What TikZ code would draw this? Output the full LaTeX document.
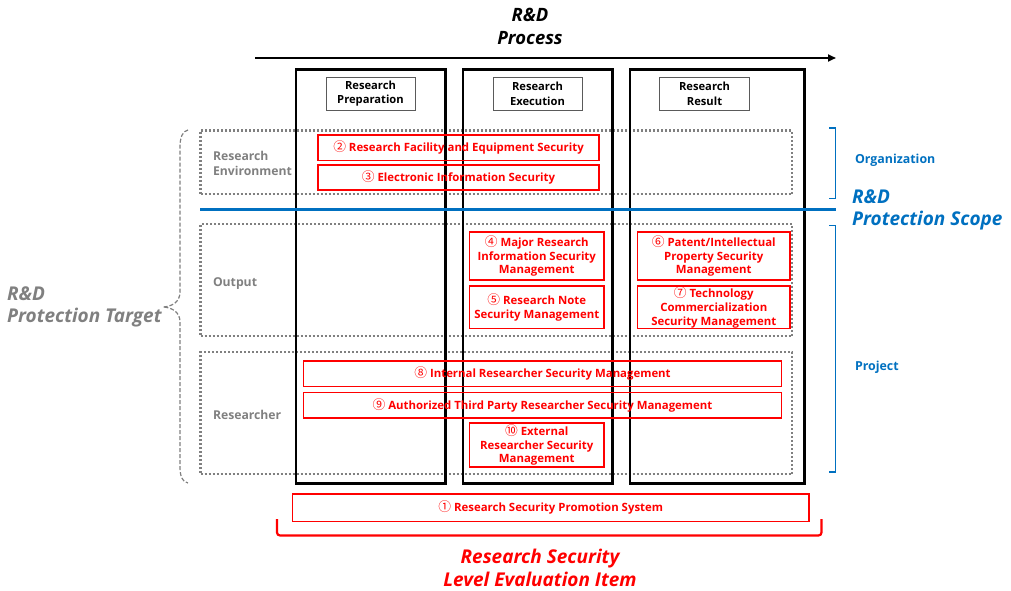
\documentclass[tikz,border=0pt]{standalone}
\usepackage{fontspec}
\setmainfont{Open Sans}
\newfontfamily\cjk[Scale=1.12]{Noto Sans CJK KR}
\usetikzlibrary{arrows.meta}
\definecolor{rdred}{RGB}{255,0,0}
\definecolor{rdblue}{RGB}{0,112,192}
\definecolor{rdgray}{RGB}{128,128,128}
\definecolor{dotgray}{RGB}{128,128,128}
\definecolor{hdgray}{RGB}{90,90,90}
\newcommand\cn[1]{{\cjk\mdseries #1}}
\newcommand\bx[7]{\node[#1, anchor=north west, minimum width={(#5)-(#3)}, minimum height={(#6)-(#4)}] (#2) at (#3,#4) {#7};}
\tikzset{
  every node/.style={inner sep=0pt, outer sep=0pt},
  colbox/.style={draw=black, line width=2.2pt},
  hdbox/.style={draw=hdgray, line width=0.9pt, align=center, font=\bfseries\fontsize{11.2}{14.5}\selectfont},
  dotbox/.style={draw=dotgray, line width=2.2pt, dash pattern=on 2pt off 2pt},
  redbox/.style={draw=rdred, line width=1.5pt, text=rdred, align=center, font=\bfseries\fontsize{11.4}{13.8}\selectfont},
  graylab/.style={text=rdgray, align=left, anchor=west, font=\bfseries\fontsize{12.2}{15.5}\selectfont},
  bluelab/.style={text=rdblue, align=left, anchor=west, font=\bfseries\fontsize{12.4}{15}\selectfont},
  bigital/.style={align=center, font=\bfseries\itshape\fontsize{19}{22.5}\selectfont},
}
\begin{document}
\begin{tikzpicture}[x=1pt,y=-1pt]
\useasboundingbox (0,0) rectangle (1011,591);
% title and process arrow
\node[bigital, font=\bfseries\itshape\fontsize{18.4}{23}\selectfont] (title) at (530,26) {R\&D\\Process};
\coordinate (arrS) at (255,58);
\coordinate (arrE) at (836,58);
\draw[line width=2.2pt, -{Triangle[length=8pt,width=7pt]}] (arrS) -- (arrE);
% dotted row boxes
\bx{dotbox}{env}{200.5}{130.5}{792}{194}{}
\bx{dotbox}{out}{200.5}{224}{792}{336}{}
\bx{dotbox}{res}{200.5}{352}{792}{474}{}
% column boxes
\bx{colbox}{col1}{296}{69.5}{445.5}{483.5}{}
\bx{colbox}{col2}{463}{69.5}{612.5}{483.5}{}
\bx{colbox}{col3}{630}{69.5}{804.5}{483.5}{}
% header boxes
\bx{hdbox}{h1}{326}{77.5}{415}{110}{Research\\Preparation}
\bx{hdbox}{h2}{493}{77.5}{582}{110}{Research\\Execution}
\bx{hdbox}{h3}{659.5}{77.5}{749.5}{110}{Research\\Result}
% row labels
\node[graylab] (lenv) at (213,163.5) {Research\\Environment};
\node[graylab] (lout) at (213,284) {Output};
\node[graylab] (lres) at (213,415) {Researcher};
% red boxes
\bx{redbox}{r2}{318}{135}{599}{160.5}{\cn{②} Research Facility and Equipment Security}
\bx{redbox}{r3}{318}{165}{599}{190}{\cn{③} Electronic Information Security}
\bx{redbox}{r4}{469.5}{232}{604}{280}{\cn{④} Major Research\\Information Security\\Management}
\bx{redbox}{r5}{469.5}{286}{604}{328.5}{\cn{⑤} Research Note\\Security Management}
\bx{redbox}{r6}{637.5}{232}{790}{280}{\cn{⑥} Patent/Intellectual\\Property Security\\Management}
\bx{redbox}{r7}{637.5}{286}{790}{328.5}{\cn{⑦} Technology\\Commercialization\\Security Management}
\bx{redbox}{r8}{303.5}{361}{781.5}{386.5}{\cn{⑧} Internal Researcher Security Management}
\bx{redbox}{r9}{303.5}{392.5}{781.5}{418}{\cn{⑨} Authorized Third Party Researcher Security Management}
\bx{redbox}{r10}{469.5}{423}{604}{467}{\cn{⑩} External\\Researcher Security\\Management}
\bx{redbox}{r1}{292.5}{494}{809}{521.5}{\cn{①} Research Security Promotion System}
% blue scope line and brackets
\coordinate (blS) at (200,209.5);
\coordinate (blE) at (836,209.5);
\draw[rdblue, line width=2.2pt] (blS) -- (blE);
\draw[rdblue, line width=1.6pt] (829,128) -- (835.5,128) -- (835.5,198.5) -- (829,198.5);
\draw[rdblue, line width=1.6pt] (829,225.5) -- (835.5,225.5) -- (835.5,472) -- (829,472);
\node[bluelab] (org) at (855,160.5) {Organization};
\node[bluelab] (proj) at (855,367) {Project};
\node[bigital, text=rdblue, align=left, anchor=west] (scope) at (852,210) {R\&D\\Protection Scope};
% gray dashed brace
\draw[rdgray, line width=1.2pt, dash pattern=on 4pt off 2pt]
  (188,130) .. controls (182,131) and (180,138) .. (180,148) -- (180,292)
  .. controls (180,302) and (172,306.5) .. (163,307)
  .. controls (172,307.5) and (180,312) .. (180,322) -- (180,466)
  .. controls (180,476) and (182,482) .. (188,483);
\node[bigital, text=rdgray, align=left, anchor=west] (target) at (7,307) {R\&D\\Protection Target};
% red evaluation bracket
\draw[rdred, line width=2.2pt, rounded corners=3pt] (277,519) -- (277,535.5) -- (821.5,535.5) -- (821.5,519);
\node[bigital, text=rdred] (eval) at (540,568) {Research Security\\Level Evaluation Item};
\end{tikzpicture}
\end{document}
